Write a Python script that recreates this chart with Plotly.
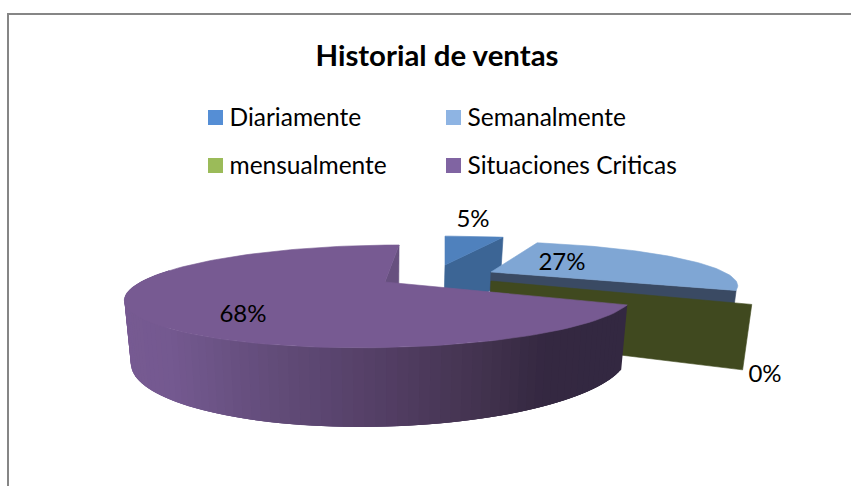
import math
import plotly.graph_objects as go

categories = ["Diariamente", "Semanalmente", "mensualmente", "Situaciones Criticas"]
values = [5, 27, 0, 68]
data_labels = ["5%", "27%", "0%", "68%"]
title_text = "Historial de ventas"

top_colors = ["#4f81bd", "#7fa6d4", "#40491f", "#775a92"]
wall_colors = ["#3c6595", "#3a4a63", "#40491f", "#67507f"]
legend_colors = ["#558ed5", "#8eb4e3", "#9bbb59", "#8064a2"]

BX = 248.0     # horizontal radius
AY = 46.9      # depth radius
H = 58.0       # thickness
CX = 385.0
SHRINK = 0.975

# per-slice apex (pixels), skew, size, perspective
apex = [(445, 265), (491, 272), (491, 281), (385, 282)]
skew = [0.0, 14.9, 0.0, -18.0]
xscale = [0.95, 0.94, 1.03, 0.985]
yscale = [0.78, 0.82, 1.04, 1.01]
persp = [0.267, 0.267, 0.267, 0.28]
thick = [1.0, 1.0, 1.0, 0.983]


def top_pt(i, deg):
    a = math.radians(deg)
    X, Y = math.sin(a), -math.cos(a)
    d = 1 - persp[i] * Y
    return (apex[i][0] + (xscale[i] * BX * X + skew[i] * Y) / d,
            apex[i][1] + yscale[i] * AY * Y / d)


def drop(i, deg):
    Y = -math.cos(math.radians(deg))
    return thick[i] * H / (1 - persp[i] * Y)


def bot_pt(i, deg):
    x, y = top_pt(i, deg)
    return (CX + (x - CX) * SHRINK, y + drop(i, deg))


def apex_bot(i):
    return (CX + (apex[i][0] - CX) * SHRINK, apex[i][1] + H)


def poly(fig, pts, color, lw=0.6):
    xs = [p[0] for p in pts] + [pts[0][0]]
    ys = [p[1] for p in pts] + [pts[0][1]]
    fig.add_trace(go.Scatter(x=xs, y=ys, mode="lines", fill="toself", fillcolor=color,
                             line=dict(color=color, width=lw), hoverinfo="skip"))


def face(i, a0, a1, n=60):
    pts = [apex[i]]
    for k in range(n + 1):
        pts.append(top_pt(i, a0 + (a1 - a0) * k / n))
    return pts


def radial_wall(i, deg):
    return [apex[i], top_pt(i, deg), bot_pt(i, deg), apex_bot(i)]


def mix(c1, c2, t):
    a = [int(c1[j:j + 2], 16) for j in (1, 3, 5)]
    b = [int(c2[j:j + 2], 16) for j in (1, 3, 5)]
    return "#%02x%02x%02x" % tuple(round(a[j] + (b[j] - a[j]) * t) for j in range(3))


# angles from values
bounds = [0.0]
for v in values:
    bounds.append(bounds[-1] + v * 3.6)

fig = go.Figure()

# 5% slice
poly(fig, radial_wall(0, bounds[1]), wall_colors[0])
poly(fig, face(0, bounds[0], bounds[1], 12), top_colors[0])

# 27% slice
poly(fig, radial_wall(1, bounds[2]), wall_colors[1])
poly(fig, face(1, bounds[1], bounds[2]), top_colors[1])

# 0% slice: just its radial plane
poly(fig, radial_wall(2, bounds[3]), wall_colors[2])

# 68% slice
poly(fig, radial_wall(3, bounds[4]), wall_colors[3])
stops = [(122, "#775a92"), (180, "#745990"), (300, "#614b78"), (400, "#543f66"),
         (500, "#43334f"), (560, "#342841"), (630, "#332841")]


def shade(x):
    for (x0, c0), (x1, c1) in zip(stops, stops[1:]):
        if x <= x1:
            return mix(c0, c1, max(0.0, (x - x0) / (x1 - x0)))
    return stops[-1][1]


N = 90
w0, w1 = bounds[3], 285.0
step = (w1 - w0) / N
# each band overlaps the next so no seams show
for k in range(N):
    a0 = w1 - step * (k + 1)
    a1 = w1 - step * k
    a2 = min(a1 + 2 * step, w1)
    q = [top_pt(3, a0), top_pt(3, a2), bot_pt(3, a2), bot_pt(3, a0)]
    poly(fig, q, shade((top_pt(3, a0)[0] + top_pt(3, a1)[0]) / 2), lw=0)
poly(fig, face(3, bounds[3], bounds[4], 120), top_colors[3])

# data labels
label_x = [473, 562, 765, 243]
label_y = [221, 264, 376, 316]
fig.add_trace(go.Scatter(x=label_x, y=label_y, mode="text", text=data_labels,
                         textposition="middle center",
                         textfont=dict(family="Lato", size=24, color="#000000"), hoverinfo="skip"))

# legend
legend_x = [215.5, 453.5, 215.5, 453.5]
legend_y = [117.5, 117.5, 165.5, 165.5]
text_y = [119.5, 119.5, 167.5, 167.5]
fig.add_trace(go.Scatter(x=legend_x, y=legend_y, mode="markers",
                         marker=dict(symbol="square", size=15, color=legend_colors), hoverinfo="skip"))
fig.add_trace(go.Scatter(x=[v + 14 for v in legend_x], y=text_y, mode="text", text=categories,
                         textposition="middle right",
                         textfont=dict(family="Lato", size=24.5, color="#000000"), hoverinfo="skip"))

# title
fig.add_trace(go.Scatter(x=[437], y=[59], mode="text", text=["<b>" + title_text + "</b>"],
                         textposition="middle center",
                         textfont=dict(family="Lato", size=29.4, color="#000000"), hoverinfo="skip"))

# chart border
fig.add_shape(type="rect", x0=8, y0=14, x1=870, y1=520, line=dict(color="#868686", width=2),
              fillcolor="rgba(0,0,0,0)")

fig.update_layout(width=851, height=486, margin=dict(l=0, r=0, t=0, b=0),
                  showlegend=False, paper_bgcolor="white", plot_bgcolor="white",
                  xaxis=dict(range=[0, 851], visible=False, fixedrange=True),
                  yaxis=dict(range=[486, 0], visible=False, fixedrange=True))
fig.write_html("out.html", config=dict(displayModeBar=False),
               post_script="document.body.style.margin='0';document.documentElement.style.overflow='hidden';")
